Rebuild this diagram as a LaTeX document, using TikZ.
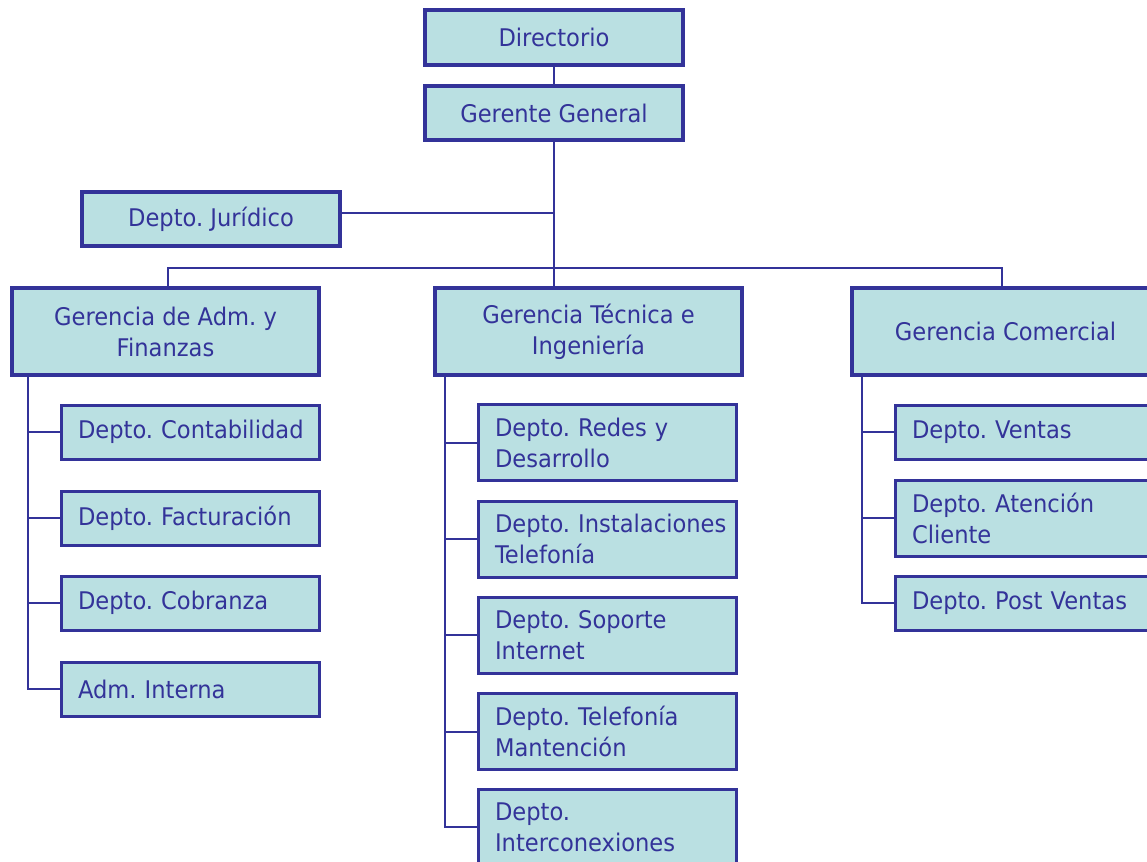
\documentclass[tikz,border=0pt]{standalone}
\usepackage{fontspec}
\setmainfont{DejaVu Sans}[FakeStretch=0.93]
\definecolor{navy}{RGB}{51,51,153}
\definecolor{boxfill}{RGB}{186,224,226}
\begin{document}
\frenchspacing
\begin{tikzpicture}[x=1pt,y=-1pt,
  box/.style={draw=navy, fill=boxfill, text=navy, font=\fontsize{24.3}{31}\selectfont\frenchspacing, inner sep=0pt},
  main/.style={box, line width=4pt, align=center, minimum width=258pt},
  gerencia/.style={box, line width=4pt, align=center, minimum width=307pt, minimum height=87pt},
  sub/.style={box, line width=3pt, align=left, text width=224pt, inner xsep=17pt, minimum width=258pt},
  link/.style={draw=navy, line width=2pt}]
\useasboundingbox (0,0) rectangle (1147,861);
\clip (0,0) rectangle (1147,861);
% top
\node[main, minimum height=55pt] (dir) at (554,37.5) {Directorio};
\node[main, minimum height=54pt] (gg) at (554,113) {Gerente General};
\node[main, minimum height=54pt] (jur) at (211,219) {Depto. Jurídico};
% gerencias
\node[gerencia] (gaf) at (165.5,331.5) {Gerencia de Adm. y\\Finanzas};
\node[gerencia] (gti) at (588.5,331.5) {Gerencia Técnica e\\Ingeniería};
\node[gerencia] (gc) at (1005.5,331.5) {Gerencia Comercial};
% left column
\node[sub, minimum height=54pt] (c1) at (190,432) {\mbox{Depto. Contabilidad}};
\node[sub, minimum height=54pt] (c2) at (190,518) {\mbox{Depto. Facturación}};
\node[sub, minimum height=54pt] (c3) at (190,603) {\mbox{Depto. Cobranza}};
\node[sub, minimum height=54pt] (c4) at (190,689) {\mbox{Adm. Interna}};
% middle column
\node[sub, minimum height=76pt] (t1) at (607,442.5) {\mbox{Depto. Redes y}\\Desarrollo};
\node[sub, minimum height=76pt] (t2) at (607,539) {\mbox{Depto. Instalaciones}\\Telefonía};
\node[sub, minimum height=76pt] (t3) at (607,635) {\mbox{Depto. Soporte}\\Internet};
\node[sub, minimum height=76pt] (t4) at (607,731.5) {\mbox{Depto. Telefonía}\\Mantención};
\node[sub, minimum height=76pt] (t5) at (607,827) {Depto.\\Interconexiones};
% right column
\node[sub, minimum height=54pt] (v1) at (1024,432) {\mbox{Depto. Ventas}};
\node[sub, minimum height=76pt] (v2) at (1024,518) {\mbox{Depto. Atención}\\Cliente};
\node[sub, minimum height=54pt] (v3) at (1024,603) {\mbox{Depto. Post Ventas}};
% connectors
\coordinate (hub) at (554,268);
\draw[link] (dir) -- (gg);
\draw[link] (gg) -- (hub);
\draw[link] ([yshift=6pt]jur.east) -- ([yshift=6pt]jur.east -| gg.south);
\draw[link] ([xshift=2.5pt]gaf.north) |- (hub) -| ([xshift=-3.5pt]gc.north);
\draw[link] (hub) -- (hub |- gti.north);
\foreach \n in {c1,c2,c3,c4} \draw[link] ([xshift=18pt]gaf.south west) |- (\n.west);
\foreach \n in {t1,t2,t3,t4,t5} \draw[link] ([xshift=12pt]gti.south west) |- (\n.west);
\foreach \n in {v1,v2,v3} \draw[link] ([xshift=12pt]gc.south west) |- (\n.west);
\end{tikzpicture}
\end{document}
